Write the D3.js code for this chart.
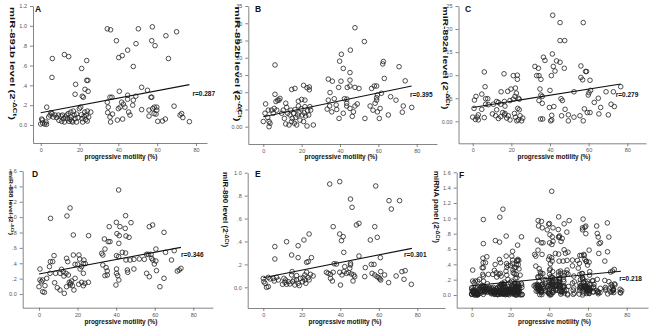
<!DOCTYPE html>
<html>
<head>
<meta charset="utf-8">
<script src="https://cdn.jsdelivr.net/npm/d3@7"></script>
<style>
  body { margin: 0; background: #fff; }
  svg { display: block; font-family: "Liberation Sans", Arial, sans-serif; }
  .axis path, .axis line { stroke: #666; stroke-width: 0.8; }
  .axis text { fill: #555; font-size: 5.5px; font-family: "Liberation Sans", Arial, sans-serif; }
  .dot { fill: none; stroke: #222; stroke-width: 0.8; }
  .fit { stroke: #111; stroke-width: 1.1; }
  .bold { font-weight: bold; fill: #111; }
</style>
</head>
<body>
<div id="chart"></div>
<script>
// progressive motility (%) vs expression level, one [x, y] pair per sample
const pointsA = [
  [34.3,0.97],[36,0.96],[50.3,0.97],[57.5,0.99],[39,0.85],[64.5,0.90],[70,0.94],[57.2,0.85],[58.9,0.80],[49.1,0.82],
  [44.8,0.755],[40.2,0.68],[42,0.70],[65.8,0.67],[47.7,0.59],[12.2,0.71],[14.4,0.69],[6,0.67],[5.8,0.48],[21.1,0.57],
  [23.7,0.65],[23.7,0.45],[24.3,0.45],[18,0.41],[17.7,0.31],[22.8,0.36],[24.4,0.34],[21.4,0.29],[22,0.28],[40.5,0.34],
  [52,0.38],[55,0.35],[56.8,0.28],[35.7,0.28],[36.7,0.28],[34.3,0.23],[34.8,0.18],[34.5,0.125],[35.7,0.08],[37,0.11],
  [36,0.03],[40,0.165],[40.9,0.18],[41.7,0.23],[42.6,0.21],[43.4,0.18],[39.5,0.05],[42.2,0.06],[45.3,0.13],[46,0.10],
  [44.8,0.26],[44.8,0.30],[47.4,0.20],[47.7,0.25],[49,0.29],[52,0.155],[55.8,0.15],[57.7,0.165],[58.5,0.18],[59.8,0.18],
  [59.8,0.15],[58.4,0.115],[59.4,0.11],[60.3,0.037],[62.7,0.04],[64.2,0.06],[55.8,0.09],[68.7,0.19],[71.8,0.10],[72.6,0.115],
  [73.2,0.075],[76.6,0.034],[57.2,0.28],[0,0.01],[0.5,0.06],[0.9,0.05],[1,0.02],[2,0.01],[2.7,0.03],[3,0.007],
  [3.1,0.18],[4.1,0.08],[4.8,0.1],[5.3,0.125],[5.8,0.115],[6.5,0.08],[7.4,0.1],[8.2,0.075],[9.4,0.047],[10.5,0.09],
  [10.8,0.037],[11.2,0.1],[11.7,0.064],[12.2,0.03],[12.7,0.08],[13.7,0.064],[14.2,0.115],[14.6,0.037],[15.1,0.057],[15.5,0.13],
  [15.8,0.08],[16,0.04],[16.5,0.03],[17.2,0.1],[16.8,0.14],[17.7,0.064],[18.5,0.03],[19.2,0.074],[19.9,0.165],[20.6,0.18],
  [21,0.104],[21.3,0.064],[21.6,0.03],[22.3,0.088],[22.7,0.13],[23.2,0.054],[23.5,0.1],[24,0.14],[24,0.04],[24.7,0.08],
  [25.8,0.13],[18.5,0.11],[13.4,0.1],[9.1,0.1]
];
const pointsB = [
  [47.8,0.287],[52.7,0.247],[45.4,0.222],[40.7,0.21],[39.8,0.19],[41.7,0.169],[45.2,0.157],[6.1,0.179],[62.6,0.189],[62.3,0.182],
  [70.8,0.174],[45.2,0.135],[33.9,0.138],[36,0.132],[40.5,0.132],[63.1,0.14],[74,0.133],[39.3,0.114],[43.8,0.114],[45.2,0.118],
  [47.8,0.114],[49.9,0.111],[56.5,0.111],[57.9,0.118],[59.1,0.118],[14.8,0.108],[16.5,0.111],[21,0.12],[22.8,0.113],[24,0.115],
  [24,0.107],[6.1,0.094],[8.7,0.082],[7.5,0.077],[34.8,0.099],[37,0.081],[33.9,0.077],[42.3,0.081],[43.6,0.08],[59.5,0.092],
  [59.1,0.084],[59.1,0.077],[61.6,0.097],[66.4,0.087],[69.2,0.077],[20,0.079],[18.3,0.074],[38,0.063],[38.3,0.05],[43.5,0.06],
  [45.2,0.053],[47.8,0.06],[49,0.066],[55.7,0.06],[57.2,0.048],[59.5,0.043],[60.9,0.053],[58.3,0.068],[73,0.06],[77.4,0.056],
  [72.5,0.042],[65.2,0.034],[39.5,0.024],[46.4,0.03],[53,0.024],[60.5,0.024],[33.3,0.051],[34.6,0.06],[35.7,0.043],[41.7,0.039],
  [43.5,0.068],[47,0.043],[0,0.015],[0.9,0.039],[1.2,0.066],[2.6,0.048],[2.3,0.027],[3,0.015],[3,0.0],[3.5,0.01],
  [4.3,0.048],[5.2,0.039],[5.7,0.053],[6.6,0.073],[7,0.048],[8.2,0.077],[9.6,0.039],[10.4,0.048],[11,0.024],[11.7,0.068],
  [11.7,0.008],[12.2,0.056],[12.7,0.039],[13.4,0.005],[13.9,0.034],[14.4,0.048],[14.8,0.015],[15.1,0.024],[15.8,0.039],[16.2,0.01],
  [16.5,0.05],[16.9,0.027],[17.4,0.005],[17.9,0.034],[18.3,0.06],[18.6,0.04],[19.1,0.019],[19.7,0.052],[20.3,0.034],[21,0.015],
  [21.4,0.04],[21.7,0.058],[22.1,0.031],[22.8,0.002],[23.1,0.046],[23.7,0.034],[24.3,0.058],[24.7,0.048],[26.1,0.005],[21.7,0.077]
];
const pointsC = [
  [41.4,0.23],[45.2,0.214],[57.2,0.214],[45.2,0.175],[47.6,0.175],[36.6,0.139],[37.4,0.132],[41.2,0.146],[43.4,0.131],[45.2,0.128],
  [41.7,0.119],[42.6,0.109],[47.4,0.115],[32.2,0.119],[34,0.115],[33.1,0.099],[34.3,0.099],[35.3,0.091],[40.7,0.099],[56,0.12],
  [58.4,0.108],[58.9,0.108],[56,0.095],[56.9,0.09],[60.7,0.089],[6,0.107],[16.2,0.103],[21,0.099],[23.1,0.1],[23.1,0.091],
  [6.4,0.075],[4.7,0.059],[34.8,0.07],[40,0.067],[35.3,0.057],[36,0.054],[14.7,0.064],[18.1,0.065],[19.8,0.07],[22.1,0.072],
  [22.6,0.061],[1.7,0.054],[0.9,0.046],[6.7,0.049],[7.8,0.049],[12.4,0.043],[13.3,0.041],[16.4,0.043],[16.7,0.033],[19.3,0.045],
  [21,0.048],[21.9,0.054],[23.6,0.05],[24.1,0.048],[6.7,0.037],[8.1,0.036],[10.7,0.037],[14.5,0.037],[34.3,0.045],[36,0.039],
  [45.7,0.049],[46.4,0.045],[52.4,0.064],[59.8,0.057],[60.2,0.062],[61,0.067],[65,0.05],[62.9,0.041],[69,0.064],[72.8,0.064],
  [76.6,0.075],[71.6,0.037],[73.3,0.032],[66.2,0.03],[57.8,0.027],[59.3,0.019],[60.7,0.019],[47.8,0.026],[0.7,0.028],[4.7,0.026],
  [2.9,0.014],[2.4,0.009],[2.9,0.003],[1.4,0.004],[6,0.008],[0,0.009],[10.2,0.016],[11.9,0.012],[13.3,0.006],[14.5,0.01],
  [15.5,0.019],[16.4,0.014],[17.6,0.007],[18.4,0.012],[19.3,0.003],[21.6,0.017],[22.1,0.009],[22.8,0.001],[23.6,0.003],[24.5,0.012],
  [25.3,0.001],[25.9,0.007],[16.7,0.017],[12.4,0.025],[24.1,0.025],[23.3,0.028],[35.1,0.005],[36.2,0.005],[39.7,0.03],[40.3,0.001],
  [40.9,0.013],[42,0.032],[40.9,0.003],[46,0.012],[49.5,0.014],[49.5,0.001],[52.4,0.009],[55.5,0.012],[57.2,0.001],[70.2,0.014],
  [65.3,0.016]
];
const pointsD = [
  [41.3,1.353],[16.1,1.119],[14.5,1.015],[6,0.984],[44.9,1.019],[40.1,0.932],[47.7,0.928],[41.95,0.876],[36.4,0.876],[57.2,0.876],
  [58.9,0.898],[44.7,0.854],[40.4,0.785],[41.6,0.759],[45.1,0.755],[46.7,0.737],[17.8,0.768],[25.7,0.759],[64.8,0.802],[33.9,0.716],
  [35.9,0.681],[36.8,0.681],[41.4,0.659],[17.8,0.507],[20.7,0.507],[32.5,0.529],[34.2,0.585],[33.1,0.507],[43.2,0.542],[44.9,0.533],
  [7.8,0.499],[5.9,0.421],[7.1,0.421],[5.4,0.356],[14.3,0.464],[14.9,0.421],[18.7,0.386],[20,0.386],[21.1,0.455],[23.3,0.442],
  [23,0.395],[24,0.395],[22.1,0.356],[21.3,0.325],[0.5,0.325],[5.7,0.269],[8.6,0.269],[11.7,0.321],[12.6,0.29],[10.9,0.269],
  [14,0.269],[12.9,0.234],[15.2,0.247],[33.1,0.377],[34.8,0.343],[35.4,0.3],[35.4,0.247],[34.2,0.239],[40.2,0.499],[41.3,0.486],
  [45.1,0.442],[40.2,0.325],[40.2,0.269],[40.8,0.239],[41.4,0.182],[39.9,0.117],[45.8,0.312],[46,0.282],[49.2,0.325],[47.2,0.442],
  [49.2,0.451],[52,0.455],[54.6,0.451],[55.8,0.516],[56.7,0.516],[58.1,0.516],[55.8,0.269],[57.2,0.225],[58.4,0.464],[59,0.442],
  [59.8,0.39],[60.6,0.429],[60.6,0.585],[60.9,0.304],[64.8,0.204],[62.7,0.095],[65.6,0.542],[68.7,0.442],[70.1,0.564],[71.7,0.299],
  [72.7,0.312],[73.6,0.334],[0,0.095],[0.5,0.182],[1.9,0.182],[1.2,0.16],[1.9,0.03],[2.8,0.022],[3.1,0.108],[4,0.204],
  [8.1,0.147],[9.5,0.082],[10.9,0.052],[13.1,0.009],[14.3,0.095],[15.7,0.152],[16.1,0.117],[16.4,0.139],[16.9,0.169],[17.3,0.108],
  [18.1,0.052],[18.7,0.204],[23,0.269],[22.1,0.152],[23,0.108],[23.8,0.139],[25.6,0.152],[20.6,0.126]
];
const pointsE = [
  [34.5,0.901],[39.7,0.922],[58.4,0.884],[45.3,0.77],[46.1,0.698],[65.3,0.756],[70.8,0.756],[66.5,0.683],[36.3,0.529],[48.4,0.544],
  [49.7,0.558],[57.9,0.529],[55.6,0.413],[59.2,0.436],[39.7,0.465],[41.5,0.442],[40.6,0.407],[41.8,0.305],[23.8,0.465],[21.1,0.413],
  [12.1,0.398],[18.1,0.363],[6,0.355],[6,0.247],[14.7,0.282],[18.1,0.259],[25,0.259],[22.5,0.218],[23.3,0.224],[36.8,0.206],
  [38,0.203],[49.7,0.273],[60.8,0.259],[42.3,0.18],[45.3,0.195],[45.3,0.21],[44.9,0.166],[53,0.172],[56.1,0.2],[57.5,0.2],
  [15,0.137],[32.8,0.131],[33.7,0.122],[34.9,0.113],[36.3,0.131],[34.9,0.078],[35.9,0.055],[39.7,0.131],[40.9,0.108],[41.9,0.137],
  [43.2,0.122],[44.4,0.128],[45.8,0.116],[47,0.108],[47.5,0.093],[46.6,0.055],[40.1,0.02],[56.5,0.122],[57.9,0.108],[59.1,0.093],
  [60.5,0.073],[61,0.137],[60.1,0.084],[63,0.108],[52.7,0.093],[65.1,0.041],[69,0.099],[72,0.137],[73.7,0.145],[73.1,0.07],
  [76.9,0.026],[61,0.064],[0,0.078],[0.3,0.049],[0.9,0.035],[1.7,0],[2.6,0.006],[2.6,0.087],[3.5,0.073],[5.2,0.078],
  [6.9,0.087],[5.7,0.055],[7.8,0.064],[10.7,0.078],[10,0.026],[11.2,0.044],[12.1,0.026],[11.6,0.064],[13,0.049],[14.7,0.108],
  [13.8,0.029],[15.2,0.049],[15.9,0.064],[16.4,0.02],[17.3,0.102],[17.3,0.064],[18.1,0.035],[18.7,0.015],[19.3,0.078],[20.4,0.049],
  [20.7,0.084],[21.6,0.108],[22.1,0.035],[22.5,0.131],[23.3,0.084],[23.8,0.064],[24.5,0.113],[25.9,0.099],[21.6,0.064]
];
// panel F pools every sample of the five miRNAs
const pointsF = [].concat(pointsA, pointsB, pointsC, pointsD, pointsE);

// fitted regression lines, [start, end]
const fitA = [[0, 0.124], [76.6, 0.407]];
const fitB = [[0, 0.029], [77.4, 0.118]];
const fitC = [[0, 0.030], [76.6, 0.081]];
const fitD = [[0, 0.26], [73.6, 0.607]];
const fitE = [[0, 0.084], [77.2, 0.34]];
const fitF = [[0, 0.12], [77, 0.31]];

const panelLetters = ['A', 'B', 'C', 'D', 'E', 'F'];
const yNames = ['miR-891b level', 'miR-892b level', 'miR-892a level', 'miR-888 level', 'miR-890 level', 'miRNA panel'];
const rTexts = ['r=0.287', 'r=0.395', 'r=0.279', 'r=0.346', 'r=0.301', 'r=0.218'];
const yMaxes = [1.2, 0.35, 0.25, 1.6, 1.0, 1.6];
const ySteps = [0.2, 0.05, 0.05, 0.2, 0.2, 0.2];
const xTicks = [0, 20, 40, 60, 80];
const xTitle = 'progressive motility (%)';

class ScatterPanel {
    constructor(_svg, _config, _data, _fit) {
        this.svg = _svg;
        this.config = _config;
        this.data = _data;
        this.fit = _fit;
        this.initVis();
    }

    initVis() {
        let vis = this;
        const c = vis.config;

        // 0 and 80 land on the tick marks, the axis line runs a little beyond
        vis.xScale = d3.scaleLinear().domain([0, 80]).range([c.x0, c.x80]);
        vis.xScale.domain([vis.xScale.invert(c.left), vis.xScale.invert(c.xEnd)]).range([c.left, c.xEnd]);

        vis.yScale = d3.scaleLinear().domain([0, c.yMax]).range([c.y0, c.yTop]);
        vis.yScale.domain([vis.yScale.invert(c.bottom), c.yMax]).range([c.bottom, c.yTop]);

        const dec = c.yStep < 0.1 ? 2 : 1;
        const fmt = d => d === 0 ? d.toFixed(dec) : d.toFixed(dec).replace(/^0/, '');

        vis.xAxis = d3.axisBottom(vis.xScale).tickValues(xTicks).tickSize(3).tickPadding(2).tickSizeOuter(0);
        vis.yAxis = d3.axisLeft(vis.yScale)
            .tickValues(d3.range(0, c.yMax + c.yStep / 2, c.yStep))
            .tickFormat(fmt).tickSize(3).tickPadding(3).tickSizeOuter(0);

        vis.g = vis.svg.append('g');
        vis.g.append('g').attr('class', 'axis').attr('transform', `translate(0,${c.bottom})`).call(vis.xAxis);
        vis.g.append('g').attr('class', 'axis').attr('transform', `translate(${c.left},0)`).call(vis.yAxis);

        vis.renderVis();
    }

    renderVis() {
        let vis = this;
        const c = vis.config;

        vis.g.selectAll('.dot')
            .data(vis.data)
            .join('circle')
            .attr('class', 'dot')
            .attr('cx', d => vis.xScale(d[0]))
            .attr('cy', d => vis.yScale(d[1]))
            .attr('r', 2.3);

        vis.g.append('line')
            .attr('class', 'fit')
            .attr('x1', vis.xScale(vis.fit[0][0])).attr('y1', vis.yScale(vis.fit[0][1]))
            .attr('x2', vis.xScale(vis.fit[1][0])).attr('y2', vis.yScale(vis.fit[1][1]));

        // panel letter, r value, axis titles
        vis.g.append('text').attr('class', 'bold')
            .attr('x', c.labelX).attr('y', c.labelY)
            .style('font-size', '8.5px').text(c.letter);

        vis.g.append('text').attr('class', 'bold')
            .attr('x', c.rX).attr('y', c.rY).attr('dy', '0.35em')
            .style('font-size', '6.5px').text(c.rText);

        vis.g.append('text').attr('class', 'bold')
            .attr('x', c.titleX).attr('y', c.titleY)
            .attr('text-anchor', 'middle')
            .attr('textLength', 73).attr('lengthAdjust', 'spacingAndGlyphs')
            .style('font-size', '7px').text(xTitle);

        const yl = vis.g.append('text').attr('class', 'bold')
            .attr('transform', `translate(${c.ylabX},${c.ylabY}) rotate(90)`)
            .attr('text-anchor', 'middle').attr('dy', '0.35em')
            .attr('textLength', c.ylabLen).attr('lengthAdjust', 'spacingAndGlyphs')
            .style('font-size', c.ylabSize + 'px');
        yl.append('tspan').text(c.yName + ' (2');
        yl.append('tspan').attr('baseline-shift', 'super').style('font-size', '70%').text('-ΔCt');
        yl.append('tspan').text(')');
    }
}

const svg = d3.select('#chart').append('svg')
    .attr('width', 650)
    .attr('height', 331);

// pixel layout of the six panels
const layouts = [
    {left: 33, bottom: 143, x0: 40.7, x80: 196, xEnd: 207, y0: 125, yTop: 6,
     labelX: 35, labelY: 11.5, rX: 192.5, rY: 93.3, titleX: 121, titleY: 158.5, ylabX: 13.3, ylabY: 63.5, ylabLen: 113, ylabSize: 8},
    {left: 248.3, bottom: 144, x0: 263.3, x80: 416.7, xEnd: 437, y0: 126.7, yTop: 6,
     labelX: 255, labelY: 11.5, rX: 410, rY: 95, titleX: 341, titleY: 158.5, ylabX: 237.7, ylabY: 64, ylabLen: 115, ylabSize: 8},
    {left: 458.5, bottom: 143.3, x0: 472.7, x80: 627.3, xEnd: 646, y0: 121.3, yTop: 6,
     labelX: 465, labelY: 11.5, rX: 615.7, rY: 95, titleX: 554, titleY: 158.5, ylabX: 446, ylabY: 58, ylabLen: 103, ylabSize: 7.8},
    {left: 22.7, bottom: 307.7, x0: 39, x80: 193.3, xEnd: 213, y0: 294, yTop: 171,
     labelX: 32, labelY: 176.5, rX: 181, rY: 254.3, titleX: 121, titleY: 323.5, ylabX: 10.7, ylabY: 203, ylabLen: 64, ylabSize: 6},
    {left: 247.7, bottom: 308, x0: 263.3, x80: 417.3, xEnd: 445, y0: 287.3, yTop: 172.7,
     labelX: 255, labelY: 176.5, rX: 404, rY: 255, titleX: 345, titleY: 323.5, ylabX: 225.7, ylabY: 209.6, ylabLen: 75, ylabSize: 6.5},
    {left: 456.7, bottom: 307.7, x0: 471.7, x80: 626.7, xEnd: 648, y0: 295, yTop: 172.3,
     labelX: 459, labelY: 178, rX: 619.3, rY: 278.3, titleX: 554.5, titleY: 323.5, ylabX: 436.7, ylabY: 207, ylabLen: 72, ylabSize: 6.5}
];

const panelData = [pointsA, pointsB, pointsC, pointsD, pointsE, pointsF];
const panelFits = [fitA, fitB, fitC, fitD, fitE, fitF];

layouts.forEach((l, i) => {
    const cfg = Object.assign({}, l, {
        letter: panelLetters[i], yName: yNames[i], rText: rTexts[i],
        yMax: yMaxes[i], yStep: ySteps[i]
    });
    new ScatterPanel(svg, cfg, panelData[i], panelFits[i]);
});
</script>
</body>
</html>
